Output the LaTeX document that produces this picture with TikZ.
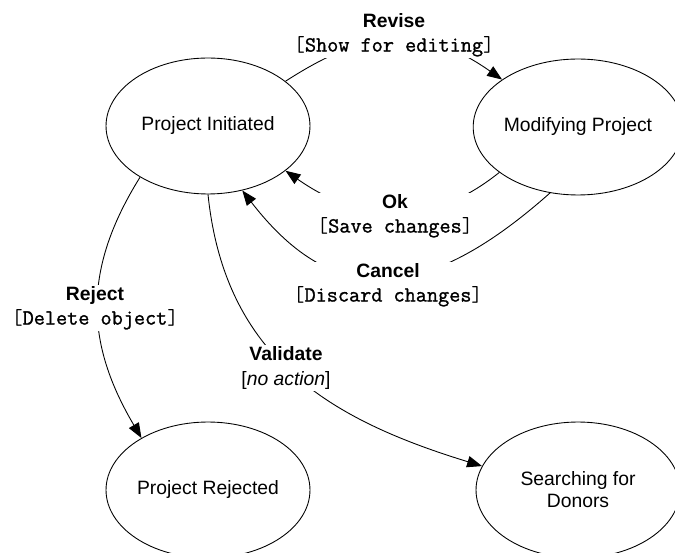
\documentclass[tikz,border=0pt]{standalone}
\usepackage{fontspec}
\setmainfont{Liberation Sans}
\newfontfamily\guardfont{Latin Modern Mono}
\newfontfamily\guardboldfont[FakeBold=1.2]{Latin Modern Mono}
\usetikzlibrary{shapes.geometric,arrows.meta}
\newcommand{\guard}[1]{{\fontsize{12.3}{13.7}\selectfont\guardfont[{\guardboldfont #1}]}}

\begin{document}
\begin{tikzpicture}[x=0.02cm, y=-0.02cm, line width=0.5pt,
    >={Triangle[length=8.5pt, width=6.5pt]},
    state/.style={draw, ellipse, minimum width=4.08cm, minimum height=2.72cm,
                  inner sep=0pt, align=center, font=\fontsize{11}{12.5}\selectfont},
    guardlabel/.style={fill=white, align=center, inner sep=1pt,
                  font=\fontsize{11}{13.7}\selectfont}]

%%% ---------- frame ----------
\useasboundingbox (0,0) rectangle (675,553);
\clip (0,0) rectangle (675,553);

%%% ---------- states ----------
\node[state] (init)    at (208,126) {Project Initiated};
\node[state] (modif)   at (578,127) {Modifying Project};
\node[state] (reject)  at (208,490) {Project Rejected};
\node[state] (donors)  at (578,490) {Searching for\\Donors};

%%% ---------- transitions ----------
\draw[->] (init.30)   .. controls +(82,-53)  and +(-80,-56) .. (modif.148);
\draw[->] (modif.210) .. controls +(-70,56)  and +(76,53)   .. (init.-30);
\draw[->] (modif.247) .. controls +(-135,120) and +(85,110) .. (init.-62);
\draw[->] (init.217)  .. controls +(-58,93)  and +(-56,-95) .. (reject.142);
\draw[->] (init.270)  .. controls +(17,165)  and +(-150,-46) .. (donors.166);

%%% ---------- labels (over the lines) ----------
\node[guardlabel] (revise)   at (394,35)  {\textbf{Revise}\\\guard{Show for editing}};
\node[guardlabel] (ok)       at (395,216) {\textbf{Ok}\\\guard{Save changes}};
\node[guardlabel] (cancel)   at (388,285) {\textbf{Cancel}\\\guard{Discard changes}};
\node[guardlabel] (rejectlb) at (95,308)  {\textbf{Reject}\\\guard{Delete object}};
\node[guardlabel] (validate) at (286,368) {\textbf{Validate}\\{[}\textit{no action}{]}};

\end{tikzpicture}
\end{document}
